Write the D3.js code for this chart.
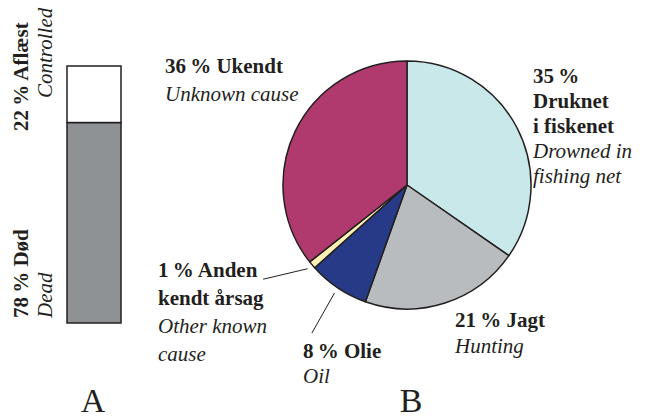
<html>
  <head>
    <title>Udfald og dødsårsager</title>
    <style>
      body { margin: 0; background: #fff; }
      svg text, svg tspan { font-family: "Liberation Serif", serif; fill: #231f20; }
      .b { font-weight: bold; }
      .i { font-style: italic; }
    </style>
  </head>
  <body>
    <script src="https://cdnjs.cloudflare.com/ajax/libs/d3/7.8.5/d3.min.js"></script>
    <script>
    // A: udfald (outcome)
    var outcomeKeys = ["dead", "controlled"];
    var outcomeValues = [78, 22];
    var outcomeColors = ["#8e9294", "#ffffff"];
    var outcomeBold = ["78\u2009% Død", "22\u2009% Aflæst"];
    var outcomeItalic = ["Dead", "Controlled"];

    // B: dødsårsag (cause of death), clockwise from 12 o'clock
    var causeKeys = ["net", "hunt", "oil", "other", "unknown"];
    var causeValues = [35, 21, 8, 1, 36];
    var causeColors = ["#c8e8ea", "#b8bcbf", "#263a87", "#fbf1b5", "#b03a6e"];
    var causeLabels = [
      [["35\u2009%", "b"], ["Druknet", "b"], ["i fiskenet", "b"], ["Drowned in", "i"], ["fishing net", "i"]],
      [["21\u2009% Jagt", "b"], ["Hunting", "i"]],
      [["8\u2009% Olie", "b"], ["Oil", "i"]],
      [["1\u2009% Anden", "b"], ["kendt årsag", "b"], ["Other known", "i"], ["cause", "i"]],
      [["36\u2009% Ukendt", "b"], ["Unknown cause", "i"]]
    ];
    var panelLetters = ["A", "B"];

    var width = 645, height = 420, fs = 21;
    var serif = "'Liberation Serif', serif";

    var svg = d3.select("body").append("svg")
      .attr("width", width)
      .attr("height", height);

    // ---- A: stacked bar ----
    var y = d3.scaleLinear().domain([0, 100]).range([323, 66]);
    var stack = d3.stack().keys(outcomeKeys);
    var row = {};
    outcomeKeys.forEach(function(k, i) { row[k] = outcomeValues[i]; });
    var layers = stack([row]);

    svg.append("g").selectAll("rect")
      .data(layers)
      .enter().append("rect")
        .attr("x", 67)
        .attr("width", 54)
        .attr("y", function(d) { return y(d[0][1]); })
        .attr("height", function(d) { return y(d[0][0]) - y(d[0][1]); })
        .attr("fill", function(d, i) { return outcomeColors[i]; })
        .attr("stroke", "#231f20")
        .attr("stroke-width", 1.5);

    // rotated labels; start y for each line
    var labA = [
      { t: outcomeBold[0], cls: "b", x: 28, y: 318 },
      { t: outcomeItalic[0], cls: "i", x: 52, y: 318 },
      { t: outcomeBold[1], cls: "b", x: 28, y: 131 },
      { t: outcomeItalic[1], cls: "i", x: 52, y: 98 }
    ];
    svg.append("g").selectAll("text")
      .data(labA)
      .enter().append("text")
        .attr("class", function(d) { return d.cls; })
        .attr("font-family", serif)
        .attr("font-size", fs)
        .attr("transform", function(d) { return "translate(" + d.x + "," + d.y + ") rotate(-90)"; })
        .text(function(d) { return d.t; });

    // ---- B: pie ----
    var cx = 407, cy = 185, r = 124;
    var pie = d3.pie().sort(null)(causeValues);
    var arc = d3.arc().innerRadius(0).outerRadius(r);

    var g = svg.append("g").attr("transform", "translate(" + cx + "," + cy + ")");
    g.selectAll("path")
      .data(pie)
      .enter().append("path")
        .attr("d", arc)
        .attr("fill", function(d, i) { return causeColors[i]; })
        .attr("stroke", "#231f20")
        .attr("stroke-width", 1.5)
        .attr("stroke-linejoin", "round");

    // label positions: x, first baseline, line height
    var labPos = [
      { x: 533, y: 83, lh: 25 },
      { x: 455, y: 327, lh: 26 },
      { x: 303, y: 358, lh: 25 },
      { x: 158, y: 277, lh: 28 },
      { x: 165, y: 73, lh: 28 }
    ];
    causeLabels.forEach(function(lines, i) {
      var p = labPos[i];
      var t = svg.append("text").attr("font-size", fs).attr("font-family", serif);
      lines.forEach(function(l, j) {
        t.append("tspan")
          .attr("class", l[1])
          .attr("font-family", serif)
          .attr("x", p.x)
          .attr("y", p.y + j * p.lh)
          .text(l[0]);
      });
    });

    function angleOf(i, f) {
      return pie[i].startAngle + f * (pie[i].endAngle - pie[i].startAngle);
    }

    // leader lines for the small slices
    var leaders = [
      { i: 2, r0: r + 6, r1: r + 52, da: -0.02 },
      { i: 3, r0: r + 6, r1: r + 48, da: 0.12 }
    ];
    svg.append("g").selectAll("line")
      .data(leaders)
      .enter().append("line")
        .attr("x1", function(d) { return cx + d.r0 * Math.sin(angleOf(d.i, 0.5)); })
        .attr("y1", function(d) { return cy - d.r0 * Math.cos(angleOf(d.i, 0.5)); })
        .attr("x2", function(d) { return cx + d.r1 * Math.sin(angleOf(d.i, 0.5) + d.da); })
        .attr("y2", function(d) { return cy - d.r1 * Math.cos(angleOf(d.i, 0.5) + d.da); })
        .attr("stroke", "#231f20")
        .attr("stroke-width", 1);

    // panel letters
    svg.append("g").selectAll("text")
      .data(panelLetters)
      .enter().append("text")
        .attr("x", function(d, i) { return i ? 411 : 93; })
        .attr("y", 412)
        .attr("text-anchor", "middle")
        .attr("font-family", serif)
        .attr("font-size", 34)
        .text(function(d) { return d; });
    </script>
  </body>
</html>
